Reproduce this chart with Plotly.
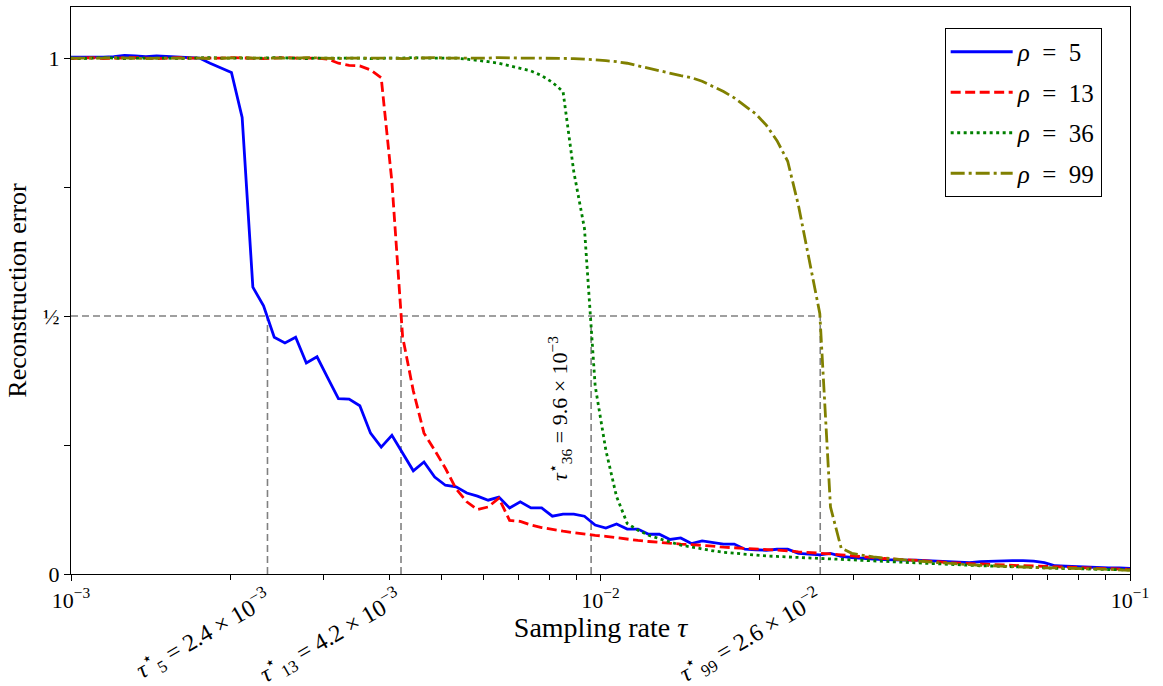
import numpy as np
import plotly.graph_objects as go

# sampling-rate grid (100 log-spaced points between 1e-3 and 1e-1)
tau = np.logspace(-3, -1, 100)

err_rho5 = [1.002, 1.002, 1.001, 1.002, 1.003, 1.005, 1.004, 1.003, 1.004, 1.003,
            1.002, 1.001, 1.0, 0.99, 0.981, 0.972, 0.885, 0.556, 0.52, 0.459,
            0.448, 0.459, 0.409, 0.421, 0.38, 0.34, 0.339, 0.326, 0.273, 0.246,
            0.269, 0.234, 0.200, 0.217, 0.188, 0.172, 0.169, 0.157, 0.151, 0.143,
            0.149, 0.128, 0.140, 0.128, 0.128, 0.112, 0.116, 0.116, 0.112, 0.095,
            0.089, 0.097, 0.087, 0.087, 0.077, 0.077, 0.067, 0.070, 0.059, 0.064,
            0.061, 0.058, 0.058, 0.048, 0.047, 0.046, 0.048, 0.048, 0.040, 0.039,
            0.037, 0.040, 0.034, 0.032, 0.030, 0.029, 0.028, 0.027, 0.027, 0.027,
            0.026, 0.026, 0.025, 0.023, 0.022, 0.024, 0.025, 0.026, 0.026, 0.026,
            0.025, 0.022, 0.016, 0.015, 0.014, 0.014, 0.013, 0.012, 0.012, 0.011]

err_rho13 = [0.999, 1.0, 1.001, 0.999, 1.0, 1.0, 1.001, 1.0, 0.999, 1.0,
             1.001, 1.0, 1.0, 0.999, 1.0, 1.001, 1.0, 1.0, 0.999, 1.0,
             1.001, 1.0, 1.0, 1.0, 0.998, 0.99, 0.986, 0.985, 0.977, 0.962,
             0.76, 0.46, 0.355, 0.273, 0.24, 0.205, 0.165, 0.14, 0.125, 0.13,
             0.147, 0.104, 0.102, 0.095, 0.09, 0.086, 0.083, 0.080, 0.077, 0.075,
             0.073, 0.070, 0.067, 0.065, 0.063, 0.061, 0.060, 0.058, 0.057, 0.056,
             0.054, 0.052, 0.051, 0.050, 0.049, 0.048, 0.046, 0.045, 0.043, 0.042,
             0.040, 0.039, 0.037, 0.035, 0.033, 0.032, 0.030, 0.029, 0.028, 0.026,
             0.025, 0.024, 0.022, 0.021, 0.020, 0.019, 0.018, 0.017, 0.0165, 0.016,
             0.0155, 0.015, 0.014, 0.013, 0.013, 0.012, 0.011, 0.010, 0.010, 0.009]

err_rho36 = [1.0, 0.999, 1.0, 1.001, 1.0, 0.999, 1.0, 1.0, 1.001, 1.0,
             0.999, 1.0, 1.0, 1.001, 1.0, 1.0, 0.999, 1.0, 1.0, 1.001,
             1.0, 1.0, 0.999, 1.0, 1.0, 1.0, 1.001, 1.0, 0.999, 1.0,
             1.0, 1.0, 1.001, 1.0, 1.0, 0.999, 1.0, 0.998, 0.996, 0.993,
             0.99, 0.985, 0.98, 0.975, 0.966, 0.953, 0.935, 0.78, 0.67, 0.365,
             0.24, 0.15, 0.098, 0.085, 0.075, 0.068, 0.062, 0.056, 0.052, 0.048,
             0.045, 0.042, 0.040, 0.038, 0.036, 0.035, 0.034, 0.033, 0.032, 0.031,
             0.030, 0.029, 0.028, 0.027, 0.026, 0.025, 0.024, 0.023, 0.022, 0.021,
             0.020, 0.019, 0.018, 0.017, 0.0165, 0.016, 0.0155, 0.015, 0.014, 0.013,
             0.0125, 0.012, 0.011, 0.011, 0.010, 0.010, 0.009, 0.009, 0.008, 0.008]

err_rho99 = [1.0, 1.0, 0.999, 1.0, 1.001, 1.0, 1.0, 0.999, 1.0, 1.0,
             1.001, 1.0, 1.0, 0.999, 1.0, 1.0, 1.001, 1.0, 1.0, 0.999,
             1.0, 1.0, 1.001, 1.0, 1.0, 0.999, 1.0, 1.0, 1.001, 1.0,
             1.0, 0.999, 1.0, 1.0, 1.001, 1.0, 1.0, 0.999, 1.0, 1.0,
             1.001, 1.0, 1.0, 1.0, 1.0, 1.0, 1.0, 0.999, 0.998, 0.997,
             0.995, 0.993, 0.99, 0.985, 0.98, 0.975, 0.97, 0.966, 0.962, 0.955,
             0.945, 0.935, 0.923, 0.907, 0.892, 0.87, 0.84, 0.80, 0.715, 0.61,
             0.505, 0.13, 0.05, 0.04, 0.036, 0.033, 0.031, 0.029, 0.027, 0.025,
             0.023, 0.022, 0.021, 0.019, 0.018, 0.017, 0.016, 0.0155, 0.015, 0.014,
             0.013, 0.012, 0.012, 0.011, 0.011, 0.010, 0.010, 0.009, 0.008, 0.007]

series_names = ["<i>ρ</i>\u2002=\u20025", "<i>ρ</i>\u2002=\u200213",
                "<i>ρ</i>\u2002=\u200236", "<i>ρ</i>\u2002=\u200299"]
series_colors = ["#0000ff", "#ff0000", "#008000", "#808000"]
series_dashes = ["solid", "10px,4.5px", "3px,3.5px", "14px,4px,3px,4px"]

# transition points (error = 1/2)
tau_star = [2.35e-3, 4.2e-3, 9.6e-3, 2.6e-2]
tau_star_labels = [
    "<i>τ</i><sup>⋆</sup><sub>5</sub> = 2.4 × 10<sup>−3</sup>",
    "<i>τ</i><sup>⋆</sup><sub>13</sub> = 4.2 × 10<sup>−3</sup>",
    "<i>τ</i><sup>⋆</sup><sub>36</sub> = 9.6 × 10<sup>−3</sup>",
    "<i>τ</i><sup>⋆</sup><sub>99</sub> = 2.6 × 10<sup>−2</sup>",
]
half = 0.5

x_major = [1e-3, 1e-2, 1e-1]
x_major_text = ["10<sup>−3</sup>", "10<sup>−2</sup>", "10<sup>−1</sup>"]
x_minor = [m * 10.0 ** e for e in (-3, -2) for m in range(2, 10)]
y_major = [0, 0.5, 1]
y_major_text = ["0", "½", "1"]
y_minor = [0.25, 0.75]

FONT = "Liberation Serif"
GRAY = "#808080"

fig = go.Figure()

# guide lines
fig.add_trace(go.Scatter(x=[1e-3, tau_star[-1]], y=[half, half], mode="lines",
                         line=dict(color=GRAY, width=1.6, dash="7px,4px"),
                         showlegend=False, hoverinfo="skip"))
for t in tau_star:
    fig.add_trace(go.Scatter(x=[t, t], y=[0, half], mode="lines",
                             line=dict(color=GRAY, width=1.6, dash="7px,4px"),
                             showlegend=False, hoverinfo="skip"))

for k, (ys, nm, col, ds) in enumerate(zip([err_rho5, err_rho13, err_rho36, err_rho99],
                                          series_names, series_colors, series_dashes)):
    fig.add_trace(go.Scatter(x=tau, y=ys, mode="lines", name=nm, legendgroup=f"g{k}",
                             line=dict(color=col, width=2.8, dash=ds)))

annotations = []
shifts = [(13, -5), (10, -5), None, (10, -5)]
for t, lab, sh in zip(tau_star, tau_star_labels, shifts):
    if sh is None:
        annotations.append(dict(x=np.log10(t), y=0.32, xref="x", yref="y", text=lab,
                                showarrow=False, textangle=-90, xshift=-31,
                                xanchor="center", yanchor="middle",
                                font=dict(family=FONT, size=22, color="black")))
    else:
        annotations.append(dict(x=np.log10(t), y=0, xref="x", yref="paper", text=lab,
                                showarrow=False, textangle=-30, xshift=sh[0], yshift=sh[1],
                                xanchor="right", yanchor="top",
                                font=dict(family=FONT, size=24, color="black")))

fig.update_layout(
    width=1163, height=686,
    margin=dict(l=71, r=33, t=7, b=112),
    paper_bgcolor="white", plot_bgcolor="white",
    font=dict(family=FONT, size=20, color="black"),
    xaxis=dict(type="log", range=[-3, -1], tickvals=x_major, ticktext=x_major_text,
               ticks="outside", ticklen=6, tickcolor="black", showgrid=False, zeroline=False,
               minor=dict(tickvals=x_minor, ticks="outside", ticklen=5, tickcolor="black", showgrid=False),
               showline=True, linecolor="black", linewidth=1.2, mirror=True, automargin=False,
               tickfont=dict(family=FONT, size=22),
               title=dict(text="Sampling rate <i>τ</i>", font=dict(family=FONT, size=28), standoff=2)),
    yaxis=dict(range=[0, 1.099], tickvals=y_major, ticktext=y_major_text,
               ticks="outside", ticklen=6, tickcolor="black", showgrid=False, zeroline=False,
               minor=dict(tickvals=y_minor, ticks="outside", ticklen=6, tickcolor="black", showgrid=False),
               showline=True, linecolor="black", linewidth=1.2, mirror=True, automargin=False,
               tickfont=dict(family=FONT, size=22),
               title=dict(text="Reconstruction error", font=dict(family=FONT, size=26), standoff=8)),
    legend=dict(x=0.825, y=0.963, xanchor="left", yanchor="top",
                bgcolor="white", bordercolor="black", borderwidth=1,
                font=dict(family=FONT, size=25), traceorder="grouped", tracegroupgap=5,
                itemwidth=62),
    annotations=annotations,
)

fig.write_html("out.html", config={"displayModeBar": False},
               post_script="document.body.style.margin='0px';")
